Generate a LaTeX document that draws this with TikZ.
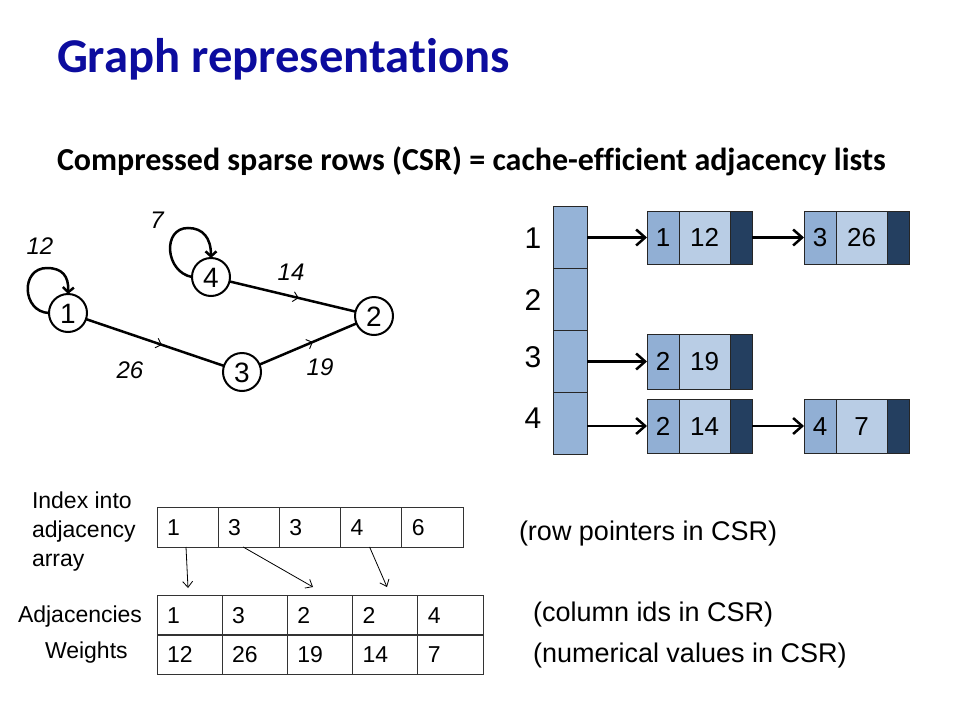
\documentclass[tikz,border=0pt]{standalone}
\usepackage{fontspec}
\setmainfont{Liberation Sans}
\newfontfamily\calib[Ligatures=NoCommon]{Carlito}
\usetikzlibrary{arrows.meta,decorations.markings,calc}
\definecolor{titleblue}{RGB}{12,12,158}
\definecolor{arrblue}{RGB}{149,179,215}
\definecolor{idblue}{RGB}{145,175,212}
\definecolor{wblue}{RGB}{185,205,229}
\definecolor{dkblue}{RGB}{36,63,96}
\begin{document}
\begin{tikzpicture}[x=1pt,y=-1pt,
  every node/.style={inner sep=0pt,outer sep=0pt},
  vtx/.style={circle,draw,line width=2pt,minimum size=38pt,text height=20pt,text depth=0pt,font=\fontsize{28}{28}\selectfont},
  wedge/.style={line width=2.5pt,postaction={decorate},
    decoration={markings,mark=at position 0.55 with {\arrow[line width=0.9pt]{Straight Barb[length=5pt,width=10pt]}}}},
  elab/.style={font=\fontsize{24}{24}\selectfont\itshape,text height=17pt,text depth=0pt},
  selfloop/.style={line width=2.5pt,-{Straight Barb[length=5pt,width=11pt]}},
  rowlab/.style={font=\fontsize{30}{30}\selectfont,text height=21.5pt,text depth=0pt},
  vcell/.style={draw=black!85,line width=0.8pt,fill=arrblue,minimum width=34pt,minimum height=62.2pt,anchor=north west},
  lcell/.style={draw=black!85,line width=0.8pt,anchor=north west,text height=18.6pt,text depth=0pt,font=\fontsize{26}{26}\selectfont},
  idc/.style={lcell,fill=idblue,minimum width=32pt},
  wc/.style={lcell,fill=wblue,minimum width=51pt},
  dc/.style={lcell,fill=dkblue,minimum width=22pt},
  larrow/.style={line width=2.5pt,-{Straight Barb[length=9pt,width=16pt]}},
  txt/.style={font=\fontsize{23}{23}\selectfont,anchor=base west},
  lbl/.style={font=\fontsize{27}{27}\selectfont,anchor=base west},
  tcell/.style={draw=black!80,line width=1pt,anchor=north west,minimum height=40pt,
    inner xsep=10pt,align=left,text height=16.5pt,text depth=0pt,font=\fontsize{23}{23}\selectfont},
  topc/.style={tcell,text width=41.2pt},
  botc/.style={tcell,text width=45.2pt},
  parrow/.style={line width=0.8pt,-{Straight Barb[length=6pt,width=10pt]}}
]
\useasboundingbox (0,0) rectangle (960,720);

% titles
\node[anchor=base west,font=\calib\bfseries\fontsize{48.6}{48.6}\selectfont,text=titleblue] (title) at (57,72) {Graph representations};
\node[anchor=base west,font=\calib\bfseries\fontsize{32}{32}\selectfont] (sub) at (57,170) {Compressed sparse rows (CSR) = cache-efficient adjacency lists};

% graph
\node[vtx] (n1) at (68,313) {1};
\node[vtx] (n4) at (211,277) {4};
\node[vtx] (n2) at (374,316) {2};
\node[vtx] (n3) at (242,372) {3};
\draw[wedge] (n1) -- (n3);
\draw[wedge] (n4) -- (n2);
\draw[wedge] (n3) -- (n2);
\draw[selfloop] (n1.west) .. controls (22,312) and (20,268) .. (47,268) .. controls (62,268) and (69,276) .. (n1.north);
\draw[selfloop] (n4.west) .. controls (165,272) and (162,228) .. (188,228) .. controls (203,228) and (211,238) .. (n4.north);
\node[elab] (l12) at (40,246) {12};
\node[elab] (l7) at (157,220) {7};
\node[elab] (l14) at (291,272) {14};
\node[elab] (l26) at (130,370) {26};
\node[elab] (l19) at (320,367) {19};

% CSR vertical array
\node[vcell] (v1) at (553,206) {};
\node[vcell] (v2) at (v1.south west) {};
\node[vcell] (v3) at (v2.south west) {};
\node[vcell] (v4) at (v3.south west) {};
\node[rowlab] (r1) at (533,238) {1};
\node[rowlab] (r2) at (533,300) {2};
\node[rowlab] (r3) at (533,357) {3};
\node[rowlab] (r4) at (533,418) {4};

% list boxes
\node[idc,minimum height=53pt] (a1i) at (647,211) {1};
\node[wc,minimum height=53pt] (a1w) at (a1i.north east) {12};
\node[dc,minimum height=53pt] (a1d) at (a1w.north east) {};
\node[idc,minimum height=53pt] (b1i) at (804,211) {3};
\node[wc,minimum height=53pt] (b1w) at (b1i.north east) {26};
\node[dc,minimum height=53pt] (b1d) at (b1w.north east) {};
\node[idc,minimum height=55pt] (a3i) at (647,334) {2};
\node[wc,minimum height=55pt] (a3w) at (a3i.north east) {19};
\node[dc,minimum height=55pt] (a3d) at (a3w.north east) {};
\node[idc,minimum height=54pt] (a4i) at (647,399) {2};
\node[wc,minimum height=54pt] (a4w) at (a4i.north east) {14};
\node[dc,minimum height=54pt] (a4d) at (a4w.north east) {};
\node[idc,minimum height=54pt] (b4i) at (804,399) {4};
\node[wc,minimum height=54pt] (b4w) at (b4i.north east) {7};
\node[dc,minimum height=54pt] (b4d) at (b4w.north east) {};

\draw[larrow] (v1.east |- a1i.west) -- (a1i.west);
\draw[larrow] (v3.east |- a3i.west) -- (a3i.west);
\draw[larrow] (v4.east |- a4i.west) -- (a4i.west);
\draw[larrow] (a1d.east) -- (b1i.west);
\draw[larrow] (a4d.east) -- (b4i.west);

% bottom arrays
\node[txt] (ix1) at (32,508) {Index into};
\node[txt] (ix2) at (32,537) {adjacency};
\node[txt] (ix3) at (32,566) {array};

\node[topc] (t1) at (157,507) {1};
\node[topc] (t2) at (t1.north east) {3};
\node[topc] (t3) at (t2.north east) {3};
\node[topc] (t4) at (t3.north east) {4};
\node[topc] (t5) at (t4.north east) {6};

\node[botc] (a1) at (157,595) {1};
\node[botc] (a2) at (a1.north east) {3};
\node[botc] (a3) at (a2.north east) {2};
\node[botc] (a4) at (a3.north east) {2};
\node[botc] (a5) at (a4.north east) {4};
\node[botc,minimum height=39pt] (w1) at (a1.south west) {12};
\node[botc,minimum height=39pt] (w2) at (w1.north east) {26};
\node[botc,minimum height=39pt] (w3) at (w2.north east) {19};
\node[botc,minimum height=39pt] (w4) at (w3.north east) {14};
\node[botc,minimum height=39pt] (w5) at (w4.north east) {7};
\draw[line width=2.2pt,black!80] (a1.south west) -- (a5.south east);

\coordinate (e1) at (188,588);
\coordinate (e2) at (313,587);
\coordinate (e3) at (387,587);
\draw[parrow] ($(t1.south west)+(29,0)$) -- (e1);
\draw[parrow] ($(t2.south west)+(25,0)$) -- (e2);
\draw[parrow] ($(t4.south west)+(29,0)$) -- (e3);

\node[txt] (adjl) at (18,622) {Adjacencies};
\node[txt] (wl) at (45,658) {Weights};

\node[lbl] (rp) at (519,540) {(row pointers in CSR)};
\node[lbl] (ci) at (533,621) {(column ids in CSR)};
\node[lbl] (nv) at (533,662) {(numerical values in CSR)};
\end{tikzpicture}
\end{document}
